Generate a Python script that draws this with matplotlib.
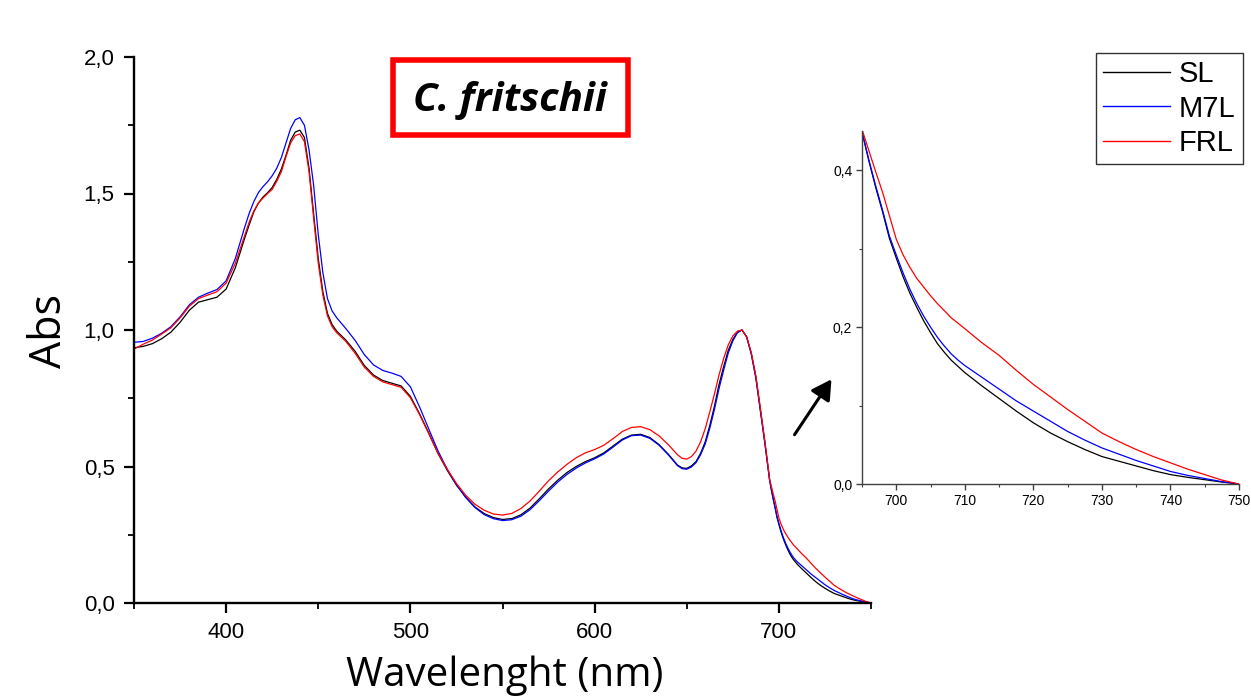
import matplotlib
matplotlib.use("Agg")
import matplotlib.pyplot as plt
from matplotlib.ticker import FuncFormatter, MultipleLocator
from matplotlib.patches import Rectangle, FancyArrowPatch

# ---------------- data ----------------
wl_main = ([350, 355, 360, 365, 370, 375, 380, 385, 390, 395, 400, 405]
           + [410, 412.5, 415, 417.5, 420, 422.5, 425, 427.5, 430, 432.5, 435, 437.5,
              440, 442.5, 445, 447.5, 450, 452.5, 455, 457.5, 460]
           + list(range(465, 650, 5))
           + [647.5, 650, 652.5, 655, 657.5, 660, 662.5, 665, 667.5, 670, 672.5, 675,
              677.5, 680, 682.5, 685, 687.5, 690, 692.5])
sl_main = ([0.935, 0.940, 0.950, 0.968, 0.992, 1.028, 1.072, 1.102, 1.111, 1.120, 1.150, 1.228]
           + [1.335, 1.385, 1.432, 1.465, 1.487, 1.503, 1.522, 1.552, 1.590, 1.640, 1.695,
              1.725, 1.732, 1.705, 1.592, 1.425, 1.262, 1.140, 1.061, 1.020, 0.996]
           + [0.963, 0.922, 0.870, 0.835, 0.815, 0.805, 0.795, 0.757, 0.693, 0.622,
              0.548, 0.486, 0.432, 0.388, 0.352, 0.328, 0.313, 0.306, 0.309, 0.323,
              0.348, 0.382, 0.418, 0.450, 0.478, 0.500, 0.518, 0.532, 0.550, 0.575,
              0.600, 0.615, 0.618, 0.606, 0.580, 0.545, 0.505]
           + [0.495, 0.493, 0.502, 0.518, 0.548, 0.590, 0.650, 0.720, 0.800, 0.865, 0.925,
              0.965, 0.992, 1.000, 0.975, 0.915, 0.828, 0.705, 0.582])
m7l_main = ([0.955, 0.958, 0.970, 0.988, 1.012, 1.048, 1.092, 1.120, 1.135, 1.148, 1.180, 1.262]
            + [1.375, 1.427, 1.470, 1.503, 1.525, 1.543, 1.565, 1.593, 1.632, 1.685, 1.738,
               1.770, 1.778, 1.750, 1.660, 1.530, 1.350, 1.210, 1.115, 1.070, 1.045]
            + [1.005, 0.962, 0.910, 0.872, 0.852, 0.842, 0.830, 0.792, 0.718, 0.637,
               0.557, 0.490, 0.433, 0.387, 0.350, 0.324, 0.309, 0.302, 0.305, 0.318,
               0.342, 0.375, 0.410, 0.443, 0.471, 0.494, 0.513, 0.528, 0.546, 0.571,
               0.597, 0.613, 0.615, 0.603, 0.578, 0.543, 0.503]
            + [0.492, 0.490, 0.498, 0.514, 0.543, 0.582, 0.640, 0.708, 0.785, 0.852, 0.915,
               0.960, 0.990, 1.000, 0.975, 0.912, 0.824, 0.702, 0.580])
frl_main = ([0.930, 0.948, 0.963, 0.985, 1.008, 1.044, 1.087, 1.115, 1.128, 1.140, 1.172, 1.245]
            + [1.345, 1.395, 1.435, 1.465, 1.483, 1.500, 1.515, 1.545, 1.580, 1.635, 1.685,
               1.712, 1.718, 1.690, 1.580, 1.410, 1.245, 1.128, 1.052, 1.012, 0.990]
            + [0.958, 0.915, 0.864, 0.830, 0.810, 0.800, 0.790, 0.752, 0.690, 0.620,
               0.548, 0.490, 0.438, 0.395, 0.362, 0.340, 0.326, 0.322, 0.328, 0.346,
               0.374, 0.410, 0.448, 0.480, 0.508, 0.532, 0.550, 0.562, 0.578, 0.602,
               0.628, 0.643, 0.646, 0.635, 0.612, 0.580, 0.543]
            + [0.530, 0.527, 0.536, 0.556, 0.590, 0.638, 0.700, 0.765, 0.835, 0.895, 0.945,
               0.978, 0.996, 1.000, 0.975, 0.918, 0.832, 0.712, 0.588])

wl_tail = [695, 696, 697, 698, 699, 700, 701, 702, 703, 704, 705, 706, 707, 708, 709, 710,
           712.5, 715, 717.5, 720, 722.5, 725, 727.5, 730, 732.5, 735, 737.5, 740,
           742.5, 745, 747.5, 750]
sl_tail = [0.449, 0.412, 0.378, 0.347, 0.313, 0.288, 0.264, 0.243, 0.225, 0.208, 0.193,
           0.179, 0.168, 0.158, 0.150, 0.142, 0.125, 0.109, 0.093, 0.078, 0.065, 0.054,
           0.044, 0.035, 0.029, 0.023, 0.017, 0.012, 0.0085, 0.0055, 0.0025, 0.0]
m7l_tail = [0.449, 0.413, 0.380, 0.349, 0.316, 0.292, 0.269, 0.248, 0.230, 0.214, 0.200,
            0.187, 0.176, 0.166, 0.158, 0.151, 0.136, 0.121, 0.106, 0.093, 0.080, 0.067,
            0.056, 0.046, 0.038, 0.030, 0.023, 0.016, 0.011, 0.007, 0.003, 0.0]
frl_tail = [0.452, 0.425, 0.398, 0.372, 0.342, 0.312, 0.292, 0.276, 0.262, 0.251, 0.240,
            0.230, 0.221, 0.212, 0.205, 0.198, 0.180, 0.164, 0.145, 0.127, 0.111, 0.095,
            0.080, 0.065, 0.054, 0.044, 0.035, 0.027, 0.019, 0.012, 0.005, 0.0]

series_names = ["SL", "M7L", "FRL"]
series_colors = ["black", "#0000ff", "#ff0000"]

# ---------------- figure ----------------
W, H = 1251, 697
plt.rcParams['font.family'] = ['Liberation Sans', 'DejaVu Sans']
fig = plt.figure(figsize=(W / 100, H / 100), dpi=100)


def fx(px):
    return px / W


def fy(py):
    return 1 - py / H


comma = FuncFormatter(lambda v, p: f"{v:.1f}".replace('.', ','))

# main axes
ax = fig.add_axes([fx(134), fy(603), fx(871) - fx(134), fy(57) - fy(603)])
wl_all = wl_main + wl_tail
mains = [sl_main + sl_tail, m7l_main + m7l_tail, frl_main + frl_tail]
for name, col, ys in zip(series_names, series_colors, mains):
    ax.plot(wl_all, ys, color=col, lw=0.9, label=name)
ax.set_xlim(350, 750)
ax.set_ylim(0, 2.0)
for s in ['top', 'right']:
    ax.spines[s].set_visible(False)
for s in ['left', 'bottom']:
    ax.spines[s].set_linewidth(1.7)
ax.xaxis.set_major_locator(MultipleLocator(100))
ax.xaxis.set_minor_locator(MultipleLocator(50))
ax.yaxis.set_major_locator(MultipleLocator(0.5))
ax.yaxis.set_minor_locator(MultipleLocator(0.25))
ax.yaxis.set_major_formatter(comma)
ax.tick_params(which='major', direction='out', length=7, width=1.6, labelsize=16)
ax.tick_params(axis='y', which='major', pad=7)
ax.tick_params(axis='x', which='major', pad=7)
ax.tick_params(which='minor', direction='out', length=4, width=1.3)
ax.patch.set_alpha(0)

fig.text(fx(50), fy(331), "Abs", rotation=90, ha='center', va='center',
         fontsize=31, family=['Open Sans', 'DejaVu Sans'])
fig.text(fx(505), fy(676), "Wavelenght (nm)", ha='center', va='center',
         fontsize=29, family=['Open Sans', 'DejaVu Sans'])

# title box
fig.patches.append(Rectangle((fx(393), fy(135)), fx(628) - fx(393), fy(60) - fy(135),
                             transform=fig.transFigure, fill=False, edgecolor='#ff0000',
                             linewidth=4, joinstyle='miter'))
fig.text(fx(510), fy(100), "C. fritschii", ha='center', va='center', fontsize=29,
         fontweight='bold', fontstyle='italic', family=['Open Sans', 'DejaVu Sans'])

# inset axes
ai = fig.add_axes([fx(862), fy(484), fx(1239) - fx(862), fy(131) - fy(484)])
for name, col, ys in zip(series_names, series_colors, [sl_tail, m7l_tail, frl_tail]):
    ai.plot(wl_tail, ys, color=col, lw=0.9)
ai.set_xlim(695, 750)
ai.set_ylim(0, 0.45)
for s in ['top', 'right']:
    ai.spines[s].set_visible(False)
for s in ['left', 'bottom']:
    ai.spines[s].set_linewidth(1.0)
    ai.spines[s].set_color('#404040')
ai.xaxis.set_major_locator(MultipleLocator(10))
ai.xaxis.set_minor_locator(MultipleLocator(5))
ai.yaxis.set_major_locator(MultipleLocator(0.2))
ai.yaxis.set_minor_locator(MultipleLocator(0.1))
ai.yaxis.set_major_formatter(comma)
ai.tick_params(which='major', direction='out', length=4, width=1.0, color='#404040',
               labelsize=10, pad=3)
ai.tick_params(which='minor', direction='out', length=2.5, width=0.8, color='#404040')
for lab in ai.get_xticklabels() + ai.get_yticklabels():
    lab.set_family(['Liberation Sans Narrow', 'Liberation Sans'])
ai.patch.set_alpha(0)

# arrow
fig.add_artist(FancyArrowPatch(
    (fx(793), fy(437)), (fx(833), fy(377)), transform=fig.transFigure,
    arrowstyle='-|>,head_length=8,head_width=4.5', color='black', lw=2.2,
    mutation_scale=1.5))

# legend
handles, labels = ax.get_legend_handles_labels()
leg = fig.legend(handles, labels, loc='upper right',
                 bbox_to_anchor=(fx(1243), fy(53)), fontsize=21, frameon=True,
                 fancybox=False, edgecolor='black', handlelength=2.3,
                 handletextpad=0.3, labelspacing=0.22, borderpad=0.25,
                 borderaxespad=0)
leg.get_frame().set_linewidth(1.0)
for lh in leg.get_lines():
    lh.set_linewidth(1.0)

fig.savefig("out.png", dpi=100)
